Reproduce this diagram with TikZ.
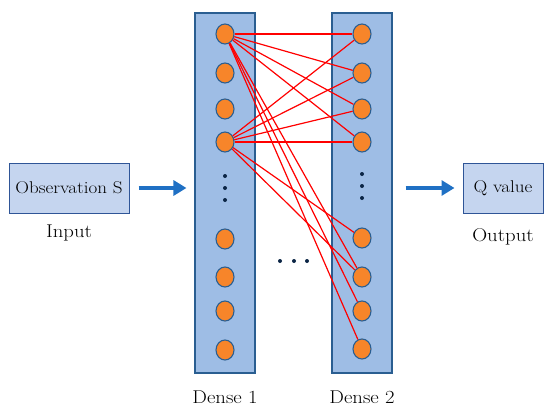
\documentclass[tikz,border=0pt]{standalone}
\usepackage{fontspec}
\setmainfont{Latin Modern Roman}[FakeStretch=1.12]
\usetikzlibrary{shapes.geometric,arrows.meta}
\definecolor{colF}{HTML}{9EBDE5}
\definecolor{colB}{HTML}{2A5E91}
\definecolor{neuF}{HTML}{F7852A}
\definecolor{boxF}{HTML}{C5D5EF}
\definecolor{boxB}{HTML}{2F5597}
\definecolor{arrC}{HTML}{1F70C4}
\definecolor{dotC}{HTML}{0B2545}
\definecolor{lineC}{HTML}{FF0000}
\tikzset{
  col/.style={draw=colB, fill=colF, line width=1.1pt, minimum width=60pt, minimum height=360pt, inner sep=0pt},
  neu/.style={ellipse, draw=colB, fill=neuF, line width=1.1pt, minimum width=18pt, minimum height=20pt, inner sep=0pt},
  dotn/.style={circle, fill=dotC, minimum size=4pt, inner sep=0pt},
  iobox/.style={draw=boxB, fill=boxF, line width=1pt, minimum height=50pt, inner sep=0pt, font=\fontsize{17}{20}\selectfont},
  lbl/.style={font=\fontsize{18.5}{22}\selectfont, inner sep=0pt},
  conn/.style={draw=lineC, line width=1.2pt},
  bigarrow/.style={draw=arrC, line width=4.5pt, -{Triangle[length=13pt,width=15pt]}}
}
\begin{document}
\begin{tikzpicture}[x=1pt,y=-1pt]
\useasboundingbox (0,0) rectangle (550,415);
% columns
\node[col] (d1) at (225,193) {};
\node[col] (d2) at (362,193) {};
% neurons dense 1
\foreach \i/\y in {1/34,2/73,3/109,4/142,5/239,6/277,7/311,8/350}{
  \node[neu] (a\i) at (225,\y) {};
}
\foreach \i/\y in {1/34,2/73,3/109,4/142,5/238,6/277,7/311,8/349}{
  \node[neu] (b\i) at (362,\y) {};
}
% dots in columns
\foreach \i/\y in {1/176,2/188,3/200}{
  \node[dotn] (p\i) at (225,\y) {};
}
\foreach \i/\y in {1/174,2/186,3/198}{
  \node[dotn] (q\i) at (362,\y) {};
}
% middle dots
\foreach \i/\x in {1/280,2/294,3/307}{
  \node[dotn] (m\i) at (\x,261) {};
}
% connections
\foreach \j in {1,2,3,4,6,7,8}{
  \draw[conn] (a1) -- (b\j);
}
\foreach \j in {1,2,3,4,5,6}{
  \draw[conn] (a4) -- (b\j);
}
% input / output
\node[iobox, minimum width=120pt] (obs) at (69,188) {Observation S};
\node[iobox, minimum width=80pt] (qv) at (503,188) {Q value};
\node[lbl] (inl) at (69,233) {Input};
\node[lbl] (outl) at (503,237) {Output};
\node[lbl] (dl1) at (225,397) {Dense 1};
\node[lbl] (dl2) at (362,397) {Dense 2};
% arrows
\draw[bigarrow, shorten <=9pt, shorten >=8pt] (obs.east) -- (obs.east -| d1.west);
\draw[bigarrow, shorten <=13pt, shorten >=8pt] (d2.east |- qv.west) -- (qv.west);
\end{tikzpicture}
\end{document}
